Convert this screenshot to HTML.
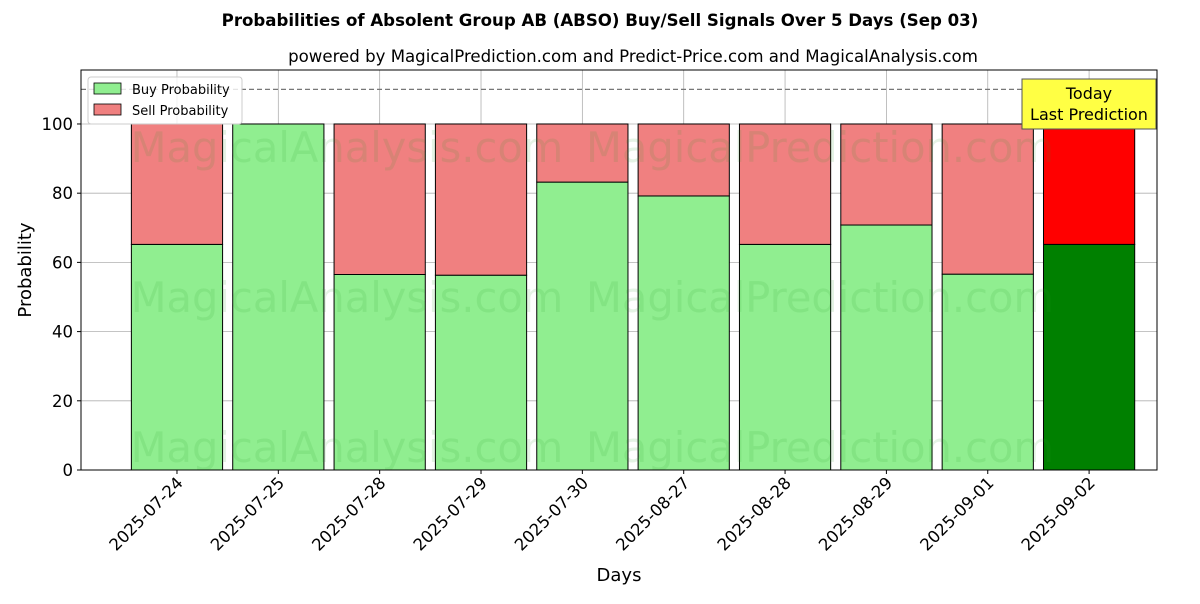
<!DOCTYPE html>
<html><head><meta charset="utf-8"><style>
body{margin:0;background:#fff;font-family:"DejaVu Sans","Liberation Sans",sans-serif;}
svg text{font-family:"DejaVu Sans","Liberation Sans",sans-serif;}
</style></head><body>
<svg id="chart" width="1200" height="600" xmlns="http://www.w3.org/2000/svg">
<rect width="1200" height="600" fill="#fff"/>
<text x="600" y="26" text-anchor="middle" font-size="16.6" font-weight="bold">Probabilities of Absolent Group AB (ABSO) Buy/Sell Signals Over 5 Days (Sep 03)</text>
<text x="633" y="62" text-anchor="middle" font-size="16.6">powered by MagicalPrediction.com and Predict-Price.com and MagicalAnalysis.com</text>
<g id="grid"></g>
<g id="marks"></g>
<g id="wm" font-size="41.6" fill="#2ca02c" fill-opacity="0.12">
<text x="347" y="162" text-anchor="middle">MagicalAnalysis.com</text>
<text x="820" y="162" text-anchor="middle">MagicalPrediction.com</text>
<text x="347" y="312" text-anchor="middle">MagicalAnalysis.com</text>
<text x="820" y="312" text-anchor="middle">MagicalPrediction.com</text>
<text x="347" y="462" text-anchor="middle">MagicalAnalysis.com</text>
<text x="820" y="462" text-anchor="middle">MagicalPrediction.com</text>
</g>
<g id="axes"></g>
<text x="619" y="581" text-anchor="middle" font-size="18">Days</text>
<text transform="translate(31,270) rotate(-90)" text-anchor="middle" font-size="18">Probability</text>
<g>
<rect x="88" y="77" width="154" height="47" fill="#fff" fill-opacity="0.8" stroke="#ccc" rx="3"/>
<rect x="94" y="83" width="27" height="11" fill="#90ee90" stroke="#000" stroke-width="0.8"/>
<text x="132" y="94" font-size="13">Buy Probability</text>
<rect x="94" y="104" width="27" height="11" fill="#f08080" stroke="#000" stroke-width="0.8"/>
<text x="132" y="115" font-size="13">Sell Probability</text>
</g>
<g>
<rect x="1022" y="79" width="134" height="50" fill="#ffff44" stroke="#555" stroke-width="1"/>
<text x="1089" y="99" text-anchor="middle" font-size="16">Today</text>
<text x="1089" y="120" text-anchor="middle" font-size="16">Last Prediction</text>
</g>
</svg>
<script>
const categories=["2025-07-24","2025-07-25","2025-07-28","2025-07-29","2025-07-30","2025-08-27","2025-08-28","2025-08-29","2025-09-01","2025-09-02"];
const buyValues=[65.2,100,56.5,56.3,83.2,79.2,65.2,70.8,56.6,65.2];
const sellValues=[34.8,0,43.5,43.7,16.8,20.8,34.8,29.2,43.4,34.8];
const yTicks=[0,20,40,60,80,100];
const NS="http://www.w3.org/2000/svg";
const L=81,R=1157,T=70,B=470,ymax=115.6,xmin=-0.947,xmax=categories.length-1+0.67;
const y=v=>B-(v/ymax)*(B-T);
const x=i=>L+(i-xmin)/(xmax-xmin)*(R-L);
const bw=0.9*(R-L)/(xmax-xmin);
function mk(tag,attrs,parent){const e=document.createElementNS(NS,tag);for(const k in attrs)e.setAttribute(k,attrs[k]);parent.appendChild(e);return e;}
const grid=document.getElementById('grid'),marks=document.getElementById('marks'),axes=document.getElementById('axes');
yTicks.forEach(t=>{const l=mk('line',{x1:L,x2:R,y1:y(t),y2:y(t),stroke:'#b0b0b0','stroke-width':0.8},grid);


const tk=mk('line',{x1:L-4,x2:L,y1:y(t),y2:y(t),stroke:'#000'},axes);


const tx=mk('text',{x:L-8,y:y(t)+6,'text-anchor':'end','font-size':16.5},axes);tx.textContent=t;

});
categories.forEach((c,i)=>{const l=mk('line',{x1:x(i),x2:x(i),y1:T,y2:B,stroke:'#b0b0b0','stroke-width':0.8},grid);


const last=i===categories.length-1;
const b=mk('rect',{x:x(i)-bw/2,y:y(buyValues[i]),width:bw,height:y(0)-y(buyValues[i]),fill:last?'#008000':'#90ee90',stroke:'#000','stroke-width':1},marks);


const s=mk('rect',{x:x(i)-bw/2,y:y(buyValues[i]+sellValues[i]),width:bw,height:y(buyValues[i])-y(buyValues[i]+sellValues[i]),fill:last?'#ff0000':'#f08080',stroke:'#000','stroke-width':1},marks);


const tk=mk('line',{x1:x(i),x2:x(i),y1:B,y2:B+4,stroke:'#000'},axes);


const tx=mk('text',{x:x(i)+7,y:B+14,'text-anchor':'end','font-size':16.5,transform:`rotate(-45 ${x(i)+7} ${B+14})`},axes);tx.textContent=c;

});
const d=mk('line',{x1:L,x2:R,y1:y(110),y2:y(110),stroke:'#777','stroke-dasharray':'5,3','stroke-width':1.2},marks);


const fr=mk('rect',{x:L,y:T,width:R-L,height:B-T,fill:'none',stroke:'#000','stroke-width':1},axes);


</script>
</body></html>
